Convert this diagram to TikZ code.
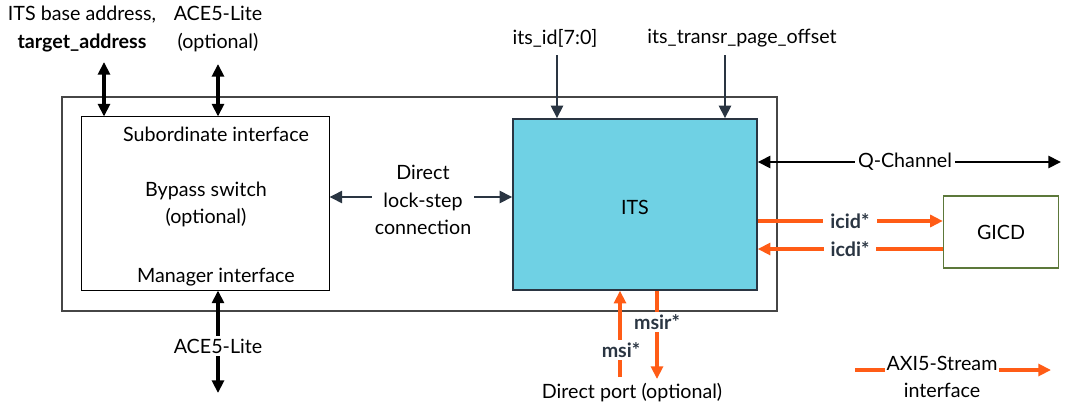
\documentclass[tikz,border=0pt]{standalone}
\usepackage{fontspec}
\setmainfont{Lato}
\usetikzlibrary{arrows.meta}
\definecolor{itscyan}{RGB}{111,209,228}
\definecolor{axiorange}{RGB}{255,92,22}
\definecolor{slate}{RGB}{42,53,66}
\definecolor{gicdgreen}{RGB}{92,120,58}
\definecolor{framegray}{RGB}{70,70,70}
\tikzset{
  blkarrow/.style={{Triangle[length=9pt,width=8.5pt]}-{Triangle[length=9pt,width=8.5pt]}, line width=2.2pt, black},
  slatearrow/.style={-{Triangle[length=9pt,width=8.5pt]}, line width=2pt, slate},
  slatedbl/.style={{Triangle[length=9pt,width=8.5pt]}-{Triangle[length=9pt,width=8.5pt]}, line width=2pt, slate},
  axiarrow/.style={-{Triangle[length=9pt,width=8.5pt]}, line width=2.2pt, axiorange},
  cut/.style={fill=white, inner sep=2pt},
  sig/.style={cut, inner xsep=5pt, font=\fontsize{14}{19.5}\selectfont\bfseries, text=slate}
}
\begin{document}
\begin{tikzpicture}[x=0.025cm, y=-0.025cm, font=\fontsize{14}{19.5}\selectfont]
    \useasboundingbox (0,0) rectangle (1080,403);

    \draw[framegray, line width=0.9pt] (62,97) rectangle (777,311);

    \node[draw, line width=0.7pt, fill=white, minimum width=6.175cm, minimum height=4.325cm] (lbox) at (205.5,203.5) {};
    \node (sub) at (216,134) {Subordinate interface};
    \node[align=center] (bypass) at (206,204.5) {Bypass switch\\(optional)};
    \node (mgr) at (216,277) {Manager interface};

    \node[draw=slate, line width=1pt, fill=itscyan, minimum width=6.1cm, minimum height=4.275cm] (its) at (635,204.5) {};
    \node (itslbl) at (635,207) {ITS};

    \node[draw=gicdgreen, line width=0.9pt, fill=white, minimum width=2.875cm, minimum height=1.8cm] (gicd) at (1001,232) {GICD};

    \node[align=center] (base) at (82,29) {ITS base address,\\\textbf{target\_address}};
    \node[align=center] (acetop) at (218,29) {ACE5-Lite\\(optional)};
    \coordinate (basept) at (104,62);
    \coordinate (acept) at (218,64);
    \draw[blkarrow] (basept) -- (basept |- lbox.north);
    \draw[blkarrow] (acept) -- (acept |- lbox.north);

    \node (itsid) at (555,38) {its\_id[7:0]};
    \node (offset) at (742,38) {its\_transr\_page\_offset};
    \coordinate (idpt) at (557,55);
    \coordinate (offpt) at (725,55);
    \draw[slatearrow] (idpt) -- (idpt |- its.north);
    \draw[slatearrow] (offpt) -- (offpt |- its.north);

    \coordinate (lockpt) at (423,197);
    \draw[slatedbl] (lbox.east |- lockpt) -- (its.west |- lockpt);
    \node[cut, align=center] (lock) at (423,200) {Direct\\lock-step\\connection};

    \coordinate (qend) at (1061,162);
    \draw[blkarrow, line width=2pt] (its.east |- qend) -- (qend);
    \node[cut] (qch) at (905,162) {Q-Channel};

    \coordinate (icidpt) at (850,221);
    \coordinate (icdipt) at (850,249);
    \draw[axiarrow] (its.east |- icidpt) -- (gicd.west |- icidpt);
    \draw[axiarrow] (gicd.west |- icdipt) -- (its.east |- icdipt);
    \node[sig] (icid) at (icidpt) {icid*};
    \node[sig] (icdi) at (icdipt) {icdi*};

    \coordinate (msipt) at (620,377);
    \coordinate (msirpt) at (657,379);
    \draw[axiarrow] (msipt) -- (msipt |- its.south);
    \draw[axiarrow] (msirpt |- its.south) -- (msirpt);
    \node[sig] (msi) at (621,350) {msi*};
    \node[sig] (msir) at (657,322) {msir*};
    \node (dport) at (632,393) {Direct port (optional)};

    \coordinate (acebot) at (218,393);
    \draw[blkarrow] (lbox.south -| acebot) -- (acebot);
    \node[cut] (ace) at (218,346) {ACE5-Lite};

    \coordinate (axistart) at (855,370);
    \coordinate (axiend) at (1051,370);
    \draw[axiarrow] (axistart) -- (axiend);
    \node[cut, inner sep=1pt] (axi) at (942,363) {AXI5-Stream};
    \node (axiif) at (942,390) {interface};
\end{tikzpicture}
\end{document}
